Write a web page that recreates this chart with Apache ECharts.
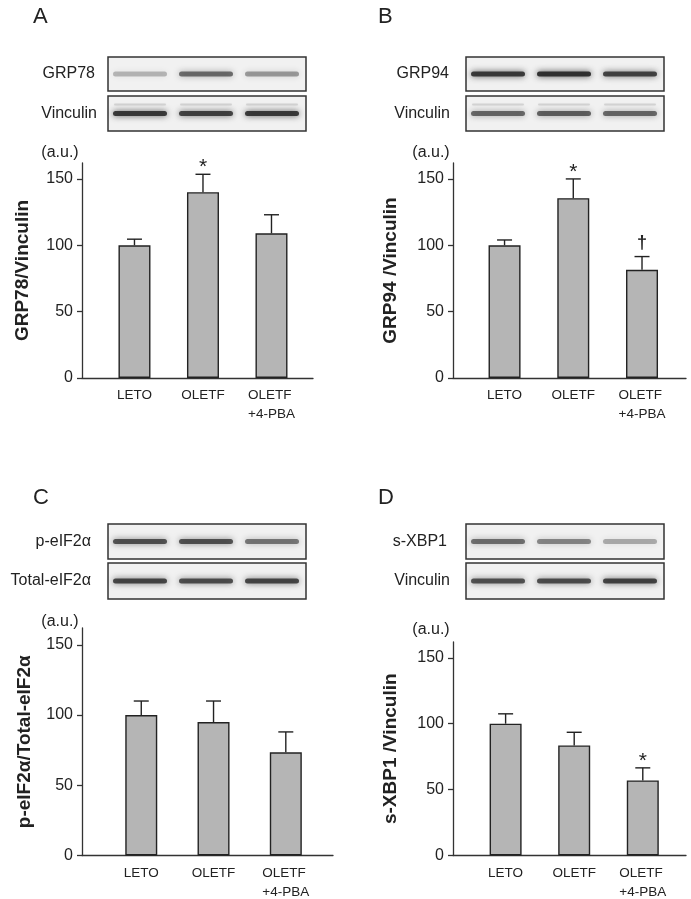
<!DOCTYPE html>
<html><head><meta charset="utf-8">
<script src="https://cdn.jsdelivr.net/npm/echarts@6/dist/echarts.min.js"></script>
<style>html,body{margin:0;padding:0;background:#fff}#c{width:691px;height:899px}</style>
</head><body><div id="c"></div>
<script>
// ---- data ----
const categories = ['LETO', 'OLETF', 'OLETF\n+4-PBA'];
const yTicks = [0, 50, 100, 150];
const yMax = 162;

const grp78Mean = [100, 140, 109];
const grp78SE   = [4.6, 13.5, 14];
const grp78Sig  = ['', '*', ''];

const grp94Mean = [100, 135.5, 81.5];
const grp94SE   = [4, 14.5, 10];
const grp94Sig  = ['', '*', '†'];

const peif2Mean = [100, 95, 73.5];
const peif2SE   = [10, 15, 14.5];
const peif2Sig  = ['', '', ''];

const sxbp1Mean = [100, 83.5, 57];
const sxbp1SE   = [7.5, 10, 9.5];
const sxbp1Sig  = ['', '', '*'];

// blot band darkness (decorative western blot strips)
const bandsGRP78 = [0.28, 0.60, 0.40];
const bandsVinA  = [0.85, 0.80, 0.85];
const bandsGRP94 = [0.85, 0.90, 0.80];
const bandsVinB  = [0.62, 0.65, 0.62];
const bandsPeIF  = [0.72, 0.72, 0.55];
const bandsTeIF  = [0.78, 0.74, 0.78];
const bandsXBP1  = [0.58, 0.48, 0.32];
const bandsVinD  = [0.72, 0.74, 0.80];

// ---- layout ----
const FONT = '"Liberation Sans", Arial, sans-serif';
const ink = '#222';
const panels = [
  {letter:'A', lx:33, ly:6, title:'GRP78/Vinculin', mean:grp78Mean, se:grp78SE, sig:grp78Sig,
   grid:{left:82, top:163, width:231, height:215}, xr:[0.234, 3.606], gap:50, au:[60, 153]},
  {letter:'B', lx:378, ly:6, title:'GRP94 /Vinculin', mean:grp94Mean, se:grp94SE, sig:grp94Sig,
   grid:{left:453, top:163, width:233, height:215}, xr:[0.25, 3.64], gap:53, au:[431, 153]},
  {letter:'C', lx:33, ly:487, title:'p-eIF2α/Total-eIF2α', mean:peif2Mean, se:peif2SE, sig:peif2Sig,
   grid:{left:82, top:628, width:251, height:229}, xr:[0.18, 3.653], gap:48, au:[60, 622]},
  {letter:'D', lx:378, ly:487, title:'s-XBP1 /Vinculin', mean:sxbp1Mean, se:sxbp1SE, sig:sxbp1Sig,
   grid:{left:453, top:642, width:233, height:217}, xr:[0.233, 3.63], gap:53, au:[431, 630]}
];
const blots = [
  {x:108, y:57, w:198, h:34, label:'GRP78', lr:95, bands:bandsGRP78},
  {x:108, y:96, w:198, h:35, label:'Vinculin', lr:97, bands:bandsVinA, upper:true},
  {x:466, y:57, w:198, h:34, label:'GRP94', lr:449, bands:bandsGRP94},
  {x:466, y:96, w:198, h:35, label:'Vinculin', lr:450, bands:bandsVinB, upper:true},
  {x:108, y:524, w:198, h:35, label:'p-eIF2α', lr:91, bands:bandsPeIF},
  {x:108, y:563, w:198, h:36, label:'Total-eIF2α', lr:91, bands:bandsTeIF},
  {x:466, y:524, w:198, h:35, label:'s-XBP1', lr:447, bands:bandsXBP1},
  {x:466, y:563, w:198, h:36, label:'Vinculin', lr:450, bands:bandsVinD}
];
const laneOffsets = [32, 98, 164];

// ---- build ----
const graphic = [];
panels.forEach(p => {
  graphic.push({type:'text', x:p.lx, y:p.ly, style:{text:p.letter, font:'22px ' + FONT, fill:ink,
    align:'left', verticalAlign:'top', textAlign:'left', textVerticalAlign:'top'}});
  graphic.push({type:'text', x:p.au[0], y:p.au[1], style:{text:'(a.u.)', font:'16px ' + FONT, fill:ink,
    align:'center', verticalAlign:'middle', textAlign:'center', textVerticalAlign:'middle'}});
});
blots.forEach(b => {
  graphic.push({type:'rect', shape:{x:b.x, y:b.y, width:b.w, height:b.h},
    style:{fill:'#f1f1f1', stroke:'#333', lineWidth:1.5}, z:1});
  const cy = b.y + b.h / 2;
  b.bands.forEach((a, i) => {
    const cx = b.x + laneOffsets[i];
    if (b.upper) {
      graphic.push({type:'rect', shape:{x:cx - 26, y:cy - 10, width:52, height:2, r:1},
        style:{fill:'rgba(60,60,60,0.15)', shadowBlur:3, shadowColor:'rgba(60,60,60,0.2)'}, z:2});
    }
    graphic.push({type:'rect', shape:{x:cx - 27, y:cy - 2.5, width:54, height:5, r:2.5},
      style:{fill:'rgba(35,35,35,' + a + ')', shadowBlur:6, shadowColor:'rgba(35,35,35,' + a + ')'}, z:2});
  });
  graphic.push({type:'text', x:b.lr, y:cy, style:{text:b.label, font:'16px ' + FONT, fill:ink,
    align:'right', verticalAlign:'middle', textAlign:'right', textVerticalAlign:'middle'}});
});

function errRender(sig) {
  return function (params, api) {
    const x = api.value(0), m = api.value(1), s = api.value(2);
    const p0 = api.coord([x, m]);
    const p1 = api.coord([x, m + s]);
    const st = {stroke:'#222', lineWidth:1.4};
    const children = [
      {type:'line', shape:{x1:p0[0], y1:p0[1], x2:p1[0], y2:p1[1]}, style:st},
      {type:'line', shape:{x1:p1[0] - 7.5, y1:p1[1], x2:p1[0] + 7.5, y2:p1[1]}, style:st}
    ];
    const t = sig[params.dataIndex];
    if (t) {
      const star = t === '*';
      children.push({type:'text', x:p1[0], y:p1[1] - (star ? 7 : 14),
        style:{text:t, font:(star ? '21px ' : 'bold 18px ') + FONT, fill:'#222', align:'center', verticalAlign:'middle'}});
    }
    return {type:'group', children};
  };
}

const grid = [], xAxis = [], yAxis = [], series = [];
panels.forEach((p, k) => {
  grid.push(p.grid);
  xAxis.push({
    type:'value', gridIndex:k, min:p.xr[0], max:p.xr[1],
    axisLine:{show:true, onZero:false, lineStyle:{color:'#333', width:1.3}},
    axisTick:{show:false}, splitLine:{show:false},
    axisLabel:{
      customValues:[1, 2, 3], margin:8, fontSize:13.5, fontFamily:FONT, color:ink,
      formatter: v => categories[Math.round(v) - 1].split('\n').map(s => '{l|' + s + '}').join('\n'),
      rich:{l:{align:'left', fontSize:13.5, fontFamily:FONT, color:ink, lineHeight:19}}
    }
  });
  yAxis.push({
    type:'value', gridIndex:k, min:0, max:yMax, interval:50,
    name:p.title, nameLocation:'middle', nameGap:p.gap,
    nameTextStyle:{fontSize:19, fontWeight:'bold', fontFamily:FONT, color:ink},
    axisLine:{show:true, lineStyle:{color:'#333', width:1.3}},
    axisTick:{show:true, length:5, customValues:yTicks, lineStyle:{color:'#333', width:1.3}},
    splitLine:{show:false},
    axisLabel:{customValues:yTicks, margin:9, fontSize:16, fontFamily:FONT, color:ink}
  });
  series.push({
    type:'bar', xAxisIndex:k, yAxisIndex:k, barWidth:32,
    data:p.mean.map((v, i) => [i + 1, v]),
    itemStyle:{color:'#b5b5b5', borderColor:'#222', borderWidth:1.4},
    silent:true, animation:false
  });
  series.push({
    type:'custom', xAxisIndex:k, yAxisIndex:k, renderItem:errRender(p.sig),
    data:p.mean.map((v, i) => [i + 1, v, p.se[i]]),
    z:5, silent:true, animation:false
  });
});

const chart = echarts.init(document.getElementById('c'), null, {renderer:'canvas'});
chart.setOption({backgroundColor:'#ffffff', animation:false, grid, xAxis, yAxis, series, graphic});
</script>
</body></html>
